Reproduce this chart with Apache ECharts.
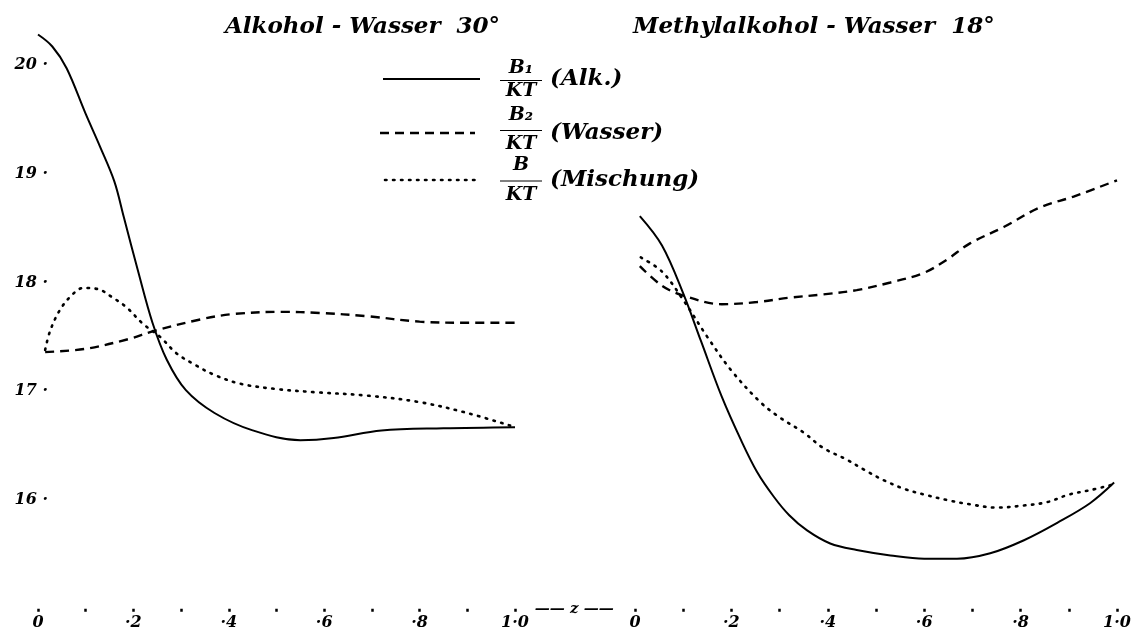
<!DOCTYPE html>
<html><head><meta charset="utf-8">
<script src="https://cdn.jsdelivr.net/npm/echarts@6/dist/echarts.min.js"></script>
<style>html,body{margin:0;padding:0;background:#fff}#c{width:1137px;height:639px}</style>
</head><body><div id="c"></div>
<script>
// ---- data ----
const panelTitles = ['Alkohol - Wasser  30°', 'Methylalkohol - Wasser  18°'];
const xTickLabels = {0: '0', 2: '·2', 4: '·4', 6: '·6', 8: '·8', 10: '1·0'};
const yTickValues = [16, 17, 18, 19, 20];
const xAxisName = '—— z ——';
const legendNumerators = ['B₁', 'B₂', 'B'];
const legendDenominator = 'KT';
const legendNames = ['(Alk.)', '(Wasser)', '(Mischung)'];

// Alkohol - Wasser 30°
const ethAlkZ = [0, 0.03, 0.06, 0.10, 0.13, 0.16, 0.18, 0.21, 0.24, 0.27, 0.31, 0.37, 0.45, 0.55, 0.62, 0.72, 0.85, 1.0];
const ethAlkB = [20.28, 20.17, 19.97, 19.55, 19.25, 18.93, 18.60, 18.10, 17.63, 17.29, 17.01, 16.80, 16.64, 16.55, 16.57, 16.64, 16.66, 16.67];
const ethWatZ = [0.015, 0.10, 0.19, 0.24, 0.34, 0.41, 0.51, 0.59, 0.69, 0.80, 0.90, 1.0];
const ethWatB = [17.36, 17.39, 17.48, 17.55, 17.66, 17.71, 17.73, 17.72, 17.69, 17.64, 17.63, 17.63];
const ethMixZ = [0.015, 0.025, 0.045, 0.07, 0.095, 0.125, 0.157, 0.186, 0.22, 0.256, 0.29, 0.33, 0.37, 0.423, 0.50, 0.585, 0.69, 0.80, 0.90, 1.0];
const ethMixB = [17.38, 17.55, 17.74, 17.88, 17.95, 17.94, 17.86, 17.77, 17.62, 17.50, 17.35, 17.24, 17.15, 17.07, 17.02, 16.99, 16.96, 16.90, 16.80, 16.67];

// Methylalkohol - Wasser 18°
const methAlkZ = [0.01, 0.056, 0.10, 0.137, 0.18, 0.22, 0.253, 0.288, 0.32, 0.357, 0.405, 0.46, 0.53, 0.60, 0.668, 0.737, 0.807, 0.876, 0.944, 0.994];
const methAlkB = [18.61, 18.34, 17.90, 17.46, 16.95, 16.55, 16.26, 16.03, 15.86, 15.72, 15.60, 15.54, 15.49, 15.46, 15.46, 15.51, 15.63, 15.79, 15.97, 16.16];
const methWatZ = [0.01, 0.056, 0.10, 0.18, 0.253, 0.32, 0.39, 0.46, 0.53, 0.60, 0.647, 0.695, 0.765, 0.84, 0.91, 1.0];
const methWatB = [18.15, 17.97, 17.88, 17.80, 17.82, 17.86, 17.89, 17.93, 18.00, 18.09, 18.21, 18.36, 18.51, 18.69, 18.79, 18.94];
const methMixZ = [0.012, 0.056, 0.10, 0.15, 0.20, 0.26, 0.30, 0.35, 0.39, 0.44, 0.475, 0.517, 0.56, 0.60, 0.647, 0.695, 0.75, 0.807, 0.855, 0.90, 0.944, 0.99];
const methMixB = [18.23, 18.10, 17.84, 17.50, 17.19, 16.90, 16.76, 16.62, 16.48, 16.37, 16.28, 16.18, 16.10, 16.05, 16.00, 15.96, 15.93, 15.95, 15.98, 16.05, 16.09, 16.14];

// ---- chart ----
const FF = '"DejaVu Serif", serif';
const txt = (size) => ({fontFamily: FF, fontStyle: 'italic', fontWeight: 'bold', fontSize: size, color: '#000'});
const pairs = (zs, bs) => zs.map((z, i) => [z, bs[i]]);

const styles = [
  {width: 2, type: 'solid'},
  {width: 2.4, type: [9, 6]},
  {width: 2.6, type: [1.5, 6.5], cap: 'round'}
];

function xAxis(grid, withName) {
  return {
    type: 'value', gridIndex: grid, min: 0, max: 1, interval: 0.1,
    axisLine: {show: false}, splitLine: {show: false},
    axisTick: {show: true, length: 3, lineStyle: {color: '#000', width: 2.5}},
    axisLabel: Object.assign(txt(16), {margin: 6, formatter: v => {
      const k = Math.round(v * 10); return xTickLabels[k] !== undefined ? xTickLabels[k] : '';
    }}),
    name: withName ? xAxisName : '', nameLocation: 'end', nameGap: 10,
    nameTextStyle: txt(15)
  };
}
function yAxis(grid, showLabels) {
  return {
    type: 'value', gridIndex: grid, min: 15, max: 20.5, interval: 1,
    axisLine: {show: false}, splitLine: {show: false}, axisTick: {show: false},
    axisLabel: Object.assign(txt(16), {show: showLabels, margin: -10, showMaxLabel: false,
      formatter: v => yTickValues.includes(v) ? v + ' ·' : ''})
  };
}
function series(grid, data, st) {
  return {type: 'line', xAxisIndex: grid, yAxisIndex: grid, data: data, smooth: 0.35,
    showSymbol: false, symbol: 'none', silent: true,
    lineStyle: {color: '#000', width: st.width, type: st.type, cap: st.cap || 'butt'}};
}

const legendRows = [
  {y: 79, x1: 383, x2: 480, numY: 68, denY: 91},
  {y: 133, x1: 380, x2: 475, numY: 115, denY: 144},
  {y: 180, x1: 385, x2: 475, numY: 165, denY: 195}
];
const graphics = [];
legendRows.forEach((r, i) => {
  const st = styles[i];
  graphics.push({type: 'line', shape: {x1: r.x1, y1: r.y, x2: r.x2, y2: r.y},
    style: {stroke: '#000', lineWidth: st.width, lineDash: st.type === 'solid' ? null : st.type, lineCap: st.cap || 'butt'}});
  graphics.push({type: 'text', x: 521, y: r.numY, style: {text: legendNumerators[i], font: 'italic bold 19px ' + FF, fill: '#000', align: 'center', verticalAlign: 'middle', textAlign: 'center', textVerticalAlign: 'middle'}});
  graphics.push({type: 'line', shape: {x1: 500, y1: (r.numY + r.denY) / 2 + 1, x2: 542, y2: (r.numY + r.denY) / 2 + 1}, style: {stroke: '#000', lineWidth: 1}});
  graphics.push({type: 'text', x: 521, y: r.denY, style: {text: legendDenominator, font: 'italic bold 19px ' + FF, fill: '#000', align: 'center', verticalAlign: 'middle', textAlign: 'center', textVerticalAlign: 'middle'}});
  graphics.push({type: 'text', x: 550, y: r.y, style: {text: legendNames[i], font: 'italic bold 23px ' + FF, fill: '#000', align: 'left', verticalAlign: 'middle', textAlign: 'left', textVerticalAlign: 'middle'}});
});

const chart = echarts.init(document.getElementById('c'), null, {renderer: 'canvas'});
chart.setOption({
  backgroundColor: '#fff',
  animation: false,
  title: [
    {text: panelTitles[0], left: 220, top: 11, textStyle: txt(23)},
    {text: panelTitles[1], left: 628, top: 11, textStyle: txt(23)}
  ],
  grid: [
    {left: 38, right: 622, top: 10.6, bottom: 30.25},
    {left: 635, right: 20, top: 10.6, bottom: 30.25}
  ],
  xAxis: [xAxis(0, true), xAxis(1, false)],
  yAxis: [yAxis(0, true), yAxis(1, false)],
  series: [
    series(0, pairs(ethAlkZ, ethAlkB), styles[0]),
    series(0, pairs(ethWatZ, ethWatB), styles[1]),
    series(0, pairs(ethMixZ, ethMixB), styles[2]),
    series(1, pairs(methAlkZ, methAlkB), styles[0]),
    series(1, pairs(methWatZ, methWatB), styles[1]),
    series(1, pairs(methMixZ, methMixB), styles[2])
  ],
  graphic: graphics
});
</script></body></html>
